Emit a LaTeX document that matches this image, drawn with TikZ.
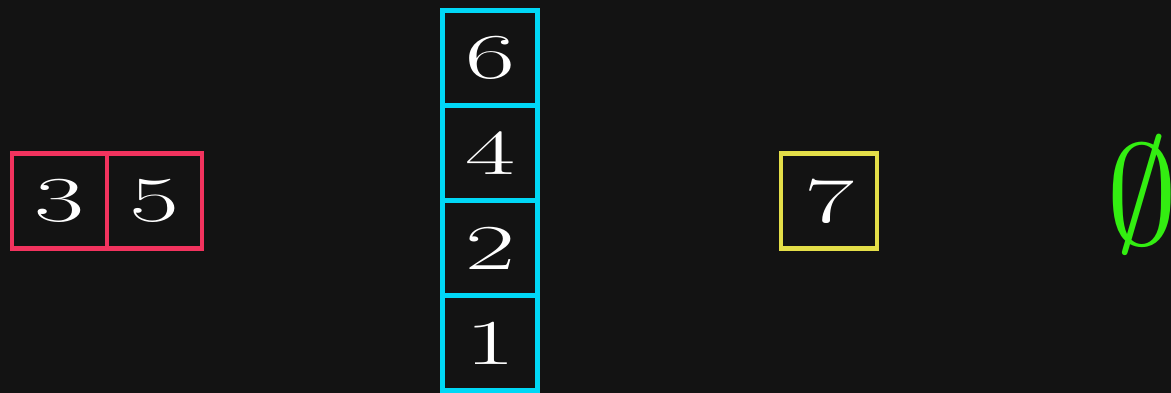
\documentclass[tikz,border=0pt]{standalone}
\usepackage{graphicx}
\definecolor{bgc}{HTML}{131313}
\definecolor{redc}{HTML}{F2335E}
\definecolor{cyanc}{HTML}{00D8F6}
\definecolor{yelc}{HTML}{E4DE48}
\definecolor{grnc}{HTML}{33EE11}
\newcommand{\dig}[1]{\scalebox{1.7}[1]{\fontsize{64}{64}\selectfont #1}}
\tikzset{
  cell/.style={draw=#1, line width=4.5pt, minimum width=95pt, minimum height=95pt, inner sep=0pt, text=white},
}
\begin{document}
\begin{tikzpicture}[x=1pt,y=1pt]
\fill[bgc] (0,0) rectangle (1171,393);
\useasboundingbox (0,0) rectangle (1171,393);
% red pair
\node[cell=redc] (r3) at (59.5,192) {\dig{3}};
\node[cell=redc] (r5) at (154.5,192) {\dig{5}};
% cyan column
\node[cell=cyanc] (c6) at (490,335) {\dig{6}};
\node[cell=cyanc] (c4) at (490,240) {\dig{4}};
\node[cell=cyanc] (c2) at (490,145) {\dig{2}};
\node[cell=cyanc] (c1) at (490,50) {\dig{1}};
% yellow
\node[cell=yelc, minimum width=96pt] (y7) at (829,192) {\dig{7}};
% empty set
\node[anchor=west, inner sep=0pt, text=grnc] (es) at (1106,198) {\scalebox{14.3}{$\emptyset$}};
\end{tikzpicture}
\end{document}
